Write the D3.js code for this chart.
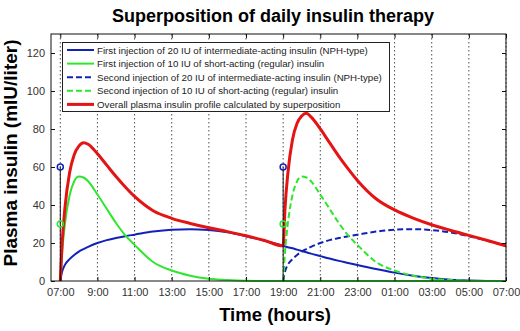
<!DOCTYPE html>
<html><head><meta charset="utf-8">
<script src="https://cdn.jsdelivr.net/npm/d3@7"></script>
<style>body{margin:0;background:#fff}svg{display:block}</style>
</head><body><svg id="c" width="520" height="331"></svg>
<script>
const hours = [7,7.1,7.25,7.5,7.75,8,8.25,8.5,9,9.5,10,10.5,11,12,13,14,15,16,17,18,
  19,19.1,19.25,19.5,19.75,20,20.25,20.5,21,21.5,22,22.5,23,24,25,26,27,28,29,30,31];
const nph1 = [0,5,8.5,11.5,13.7,15.5,16.8,18,20,21.5,22.6,23.6,24.4,26,27,27.3,26.8,25.6,23.6,21.2,
  18.5,18.2,17.8,17.2,16.5,15.8,15.1,14.4,13.1,11.8,10.6,9.5,8.4,6.3,4.4,2.8,1.6,0.7,0.2,0,0];
const reg1 = [0,15,30,45,52.5,55,54.5,52.5,45.5,38,30.5,24,19,10,5.5,2.8,1.2,0.5,0.1,0,
  0,0,0,0,0,0,0,0,0,0,0,0,0,0,0,0,0,0,0,0,0];
const nph2 = [null,null,null,null,null,null,null,null,null,null,null,null,null,null,null,null,null,null,null,null,
  0,5,8.5,11.5,13.7,15.5,16.8,18,20,21.5,22.6,23.6,24.4,26,27,27.3,26.8,25.6,23.6,21.2,18.5];
const reg2 = [null,null,null,null,null,null,null,null,null,null,null,null,null,null,null,null,null,null,null,null,
  0,15,30,45,52.5,55,54.5,52.5,45.5,38,30.5,24,19,10,5.5,2.8,1.2,0.5,0.1,0,0];
const total = [0,20,38.5,57,66.5,71,72.8,72,67,61,55,49.5,44.5,37,33,30.3,28,26,23.8,21.3,
  18.5,38.2,56.3,74.2,83,86.8,88.3,86.4,80.1,72.8,65.6,59,52.9,43.3,37.4,33.1,29.6,26.7,24,21.3,18.5];
const injectionHours = [7, 19];
const nphDose = [60, 60];
const regDose = [30, 30];
const xTickValues = [7,9,11,13,15,17,19,21,23,25,27,29,31];
const xTickLabels = ["07:00","9:00","11:00","13:00","15:00","17:00","19:00","21:00","23:00","01:00","03:00","05:00","07:00"];
const yTickValues = [0,20,40,60,80,100,120];
const legendLabels = [
  "First injection of 20 IU of intermediate-acting insulin (NPH-type)",
  "First injection of 10 IU of short-acting (regular) insulin",
  "Second injection of 20 IU of intermediate-acting insulin (NPH-type)",
  "Second injection of 10 IU of short-acting (regular) insulin",
  "Overall plasma insulin profile calculated by superposition"];

const BLUE = "#1222b8", GREEN = "#2fe62f", RED = "#e41414";
const series = [
  {v: nph1, color: BLUE, w: 2, dash: null},
  {v: reg1, color: GREEN, w: 2, dash: null},
  {v: nph2, color: BLUE, w: 2, dash: "6,3"},
  {v: reg2, color: GREEN, w: 2, dash: "6,3"},
  {v: total, color: RED, w: 3, dash: null}
];

const svg = d3.select("#c");
const L = 51, R = 506, T = 34, B = 281;
const x = d3.scaleLinear().domain([6.5, 31]).range([L, R]);
const y = d3.scaleLinear().domain([0, 130]).range([B, T]);
const font = "Arial, 'Liberation Sans', Helvetica, sans-serif";

// grid
svg.append("g").selectAll("line").data(xTickValues).join("line")
  .attr("x1", d => x(d)).attr("x2", d => x(d)).attr("y1", T).attr("y2", B)
  .attr("stroke", "#222").attr("stroke-width", 0.8).attr("stroke-dasharray", "1.5,2.5");

svg.append("clipPath").attr("id", "clip").append("rect")
  .attr("x", L).attr("y", T).attr("width", R - L).attr("height", B - T + 1);

const plot = svg.append("g").attr("clip-path", "url(#clip)");
series.forEach(s => {
  const line = d3.line().defined(d => d[1] != null)
    .x(d => x(d[0])).y(d => y(d[1])).curve(d3.curveMonotoneX);
  plot.append("path").datum(hours.map((h, i) => [h, s.v[i]]))
    .attr("d", line).attr("fill", "none").attr("stroke", s.color)
    .attr("stroke-width", s.w).attr("stroke-dasharray", s.dash)
    .attr("stroke-linejoin", "round");
});

// injection stems & markers
injectionHours.forEach((h, i) => {
  svg.append("line").attr("x1", x(h)).attr("x2", x(h)).attr("y1", y(0)).attr("y2", y(nphDose[i]))
    .attr("stroke", "#111").attr("stroke-width", 1);
  svg.append("circle").attr("cx", x(h)).attr("cy", y(nphDose[i])).attr("r", 3)
    .attr("fill", "none").attr("stroke", BLUE).attr("stroke-width", 1.5);
  svg.append("circle").attr("cx", x(h)).attr("cy", y(regDose[i])).attr("r", 3)
    .attr("fill", "none").attr("stroke", GREEN).attr("stroke-width", 1.5);
});

// frame
svg.append("rect").attr("x", L).attr("y", T).attr("width", R - L).attr("height", B - T)
  .attr("fill", "none").attr("stroke", "#111").attr("stroke-width", 1);

// axes ticks
const xAxisB = d3.axisBottom(x).tickValues(xTickValues).tickSizeInner(-4).tickSizeOuter(0)
  .tickPadding(7).tickFormat((d, i) => xTickLabels[i]);
const gxb = svg.append("g").attr("transform", `translate(0,${B})`).call(xAxisB);
const gxt = svg.append("g").attr("transform", `translate(0,${T})`)
  .call(d3.axisTop(x).tickValues(xTickValues).tickSizeInner(-4).tickSizeOuter(0).tickFormat(""));
const gyl = svg.append("g").attr("transform", `translate(${L},0)`)
  .call(d3.axisLeft(y).tickValues(yTickValues).tickSizeInner(-4).tickSizeOuter(0).tickPadding(6));
const gyr = svg.append("g").attr("transform", `translate(${R},0)`)
  .call(d3.axisRight(y).tickValues(yTickValues).tickSizeInner(-4).tickSizeOuter(0).tickFormat(""));
[gxb, gxt, gyl, gyr].forEach(g => {
  g.select(".domain").remove();
  g.selectAll(".tick line").attr("stroke", "#111");
  g.selectAll("text").attr("font-family", font).attr("font-size", 11).attr("fill", "#333");
});

// legend
const lg = svg.append("g");
lg.append("rect").attr("x", 62.5).attr("y", 42.5).attr("width", 327).attr("height", 69)
  .attr("fill", "#fff").attr("stroke", "#222").attr("stroke-width", 1);
legendLabels.forEach((t, i) => {
  const s = series[i];
  const yy = 50 + i * 13.6;
  lg.append("line").attr("x1", 67).attr("x2", 94).attr("y1", yy).attr("y2", yy)
    .attr("stroke", s.color).attr("stroke-width", s.w).attr("stroke-dasharray", s.dash);
  lg.append("text").attr("x", 97).attr("y", yy + 3.5).text(t)
    .attr("font-family", font).attr("font-size", 9.7).attr("fill", "#222");
});

// titles
svg.append("text").attr("x", 273).attr("y", 22).attr("text-anchor", "middle")
  .attr("font-family", font).attr("font-weight", "bold").attr("font-size", 18).text("Superposition of daily insulin therapy");
svg.append("text").attr("x", 275).attr("y", 321).attr("text-anchor", "middle")
  .attr("font-family", font).attr("font-weight", "bold").attr("font-size", 18.5).text("Time (hours)");
svg.append("text").attr("transform", "translate(17,153) rotate(-90)").attr("text-anchor", "middle")
  .attr("font-family", font).attr("font-weight", "bold").attr("font-size", 19).text("Plasma insulin (mIU/liter)");
</script></body></html>
